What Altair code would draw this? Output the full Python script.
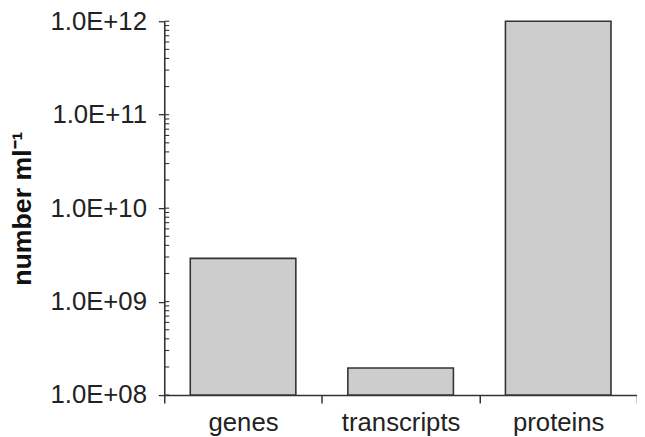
import altair as alt
import pandas as pd

categories = ["genes", "transcripts", "proteins"]
values = [2.9e9, 1.95e8, 1.0e12]
baseline = [1e8, 1e8, 1e8]
major_ticks = [1e8, 1e9, 1e10, 1e11, 1e12]
minor_ticks = [m * 10**k for k in range(8, 12) for m in range(1, 10)] + [1e12]

df = pd.DataFrame({"category": categories, "value": values, "base": baseline})
df_minor = pd.DataFrame({"tick": minor_ticks})

FONT = "Liberation Sans"
DARK = "#333333"

yscale = alt.Scale(type="log", domain=[1e8, 1e12], nice=False)
xscale = alt.Scale(paddingInner=0, paddingOuter=0)

bars = alt.Chart(df).mark_bar(
    fill="#cdcdcd", stroke=DARK, strokeWidth=1.6,
    width=alt.RelativeBandSize(0.67)
).encode(
    x=alt.X("category:N", sort=categories, scale=xscale, title=None,
            axis=alt.Axis(labelAngle=0, labelFont=FONT, labelFontSize=26,
                          labelColor="#222", labelPadding=7,
                          tickBand="extent", tickSize=8, tickColor=DARK,
                          tickWidth=1.5, domainColor=DARK, domainWidth=1.6)),
    y=alt.Y("value:Q", scale=yscale,
            axis=alt.Axis(values=major_ticks, tickSize=6, tickColor=DARK,
                          tickWidth=1.3, domainColor=DARK, domainWidth=1.6,
                          labelFont=FONT, labelFontSize=26, labelColor="#222",
                          labelPadding=12, grid=False,
                          labelExpr="'1.0E+' + format(round(log(datum.value)/LN10), '02d')",
                          title="number ml⁻¹", titleFont=FONT, titleFontSize=27,
                          titleFontWeight="bold", titleColor="#111",
                          titleAngle=-90, titleX=-143, titleY=189,
                          titleAlign="center", titleBaseline="middle")),
    y2="base:Q",
)

minor = alt.Chart(df_minor).mark_rule(color=DARK, strokeWidth=1.1).encode(
    y=alt.Y("tick:Q", scale=yscale),
    x=alt.value(0),
    x2=alt.value(5),
)

chart = alt.layer(bars, minor).properties(
    width=478, height=378,
    padding={"left": 158, "top": 11, "right": 0, "bottom": 41},
    autosize="none",
).configure_view(stroke=None)

chart.save("out.html", embed_options={"renderer": "svg", "actions": False})
